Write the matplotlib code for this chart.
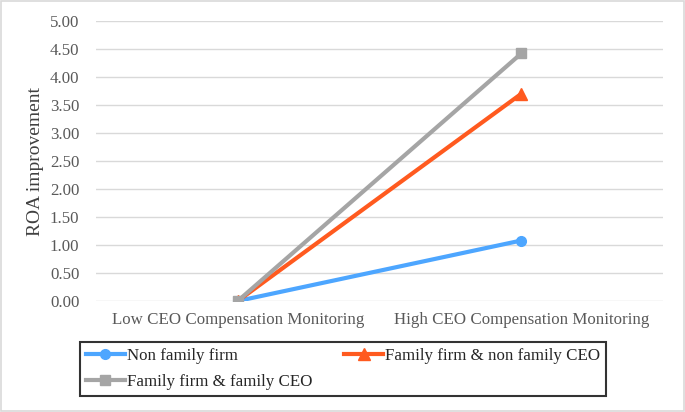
import matplotlib.pyplot as plt
from matplotlib.lines import Line2D

categories = ["Low CEO Compensation Monitoring", "High CEO Compensation Monitoring"]
non_family = [0.00, 1.08]
family_nonfamily_ceo = [0.00, 3.70]
family_family_ceo = [0.00, 4.42]
yticks = [0.0, 0.5, 1.0, 1.5, 2.0, 2.5, 3.0, 3.5, 4.0, 4.5, 5.0]

plt.rcParams["font.family"] = ["Liberation Serif", "DejaVu Serif"]

fig = plt.figure(figsize=(6.85, 4.12), dpi=100)
fig.patches.append(plt.Rectangle((0.002, 0.003), 0.996, 0.994, transform=fig.transFigure,
                                 fill=False, edgecolor="#d9d9d9", lw=1.2))
ax = fig.add_axes([96 / 685, 1 - 301 / 412, 567 / 685, 280 / 412])

x = [0.5, 1.5]
ax.plot(x, non_family, color="#4da6ff", lw=3, marker="o", ms=7, zorder=3)
ax.plot(x, family_nonfamily_ceo, color="#ff5a1f", lw=3, marker="^", ms=8, zorder=3)
ax.plot(x, family_family_ceo, color="#a5a5a5", lw=3, marker="s", ms=7, zorder=4)

ax.set_xlim(0, 2)
ax.set_ylim(0, 5)
ax.set_yticks(yticks)
ax.set_yticklabels([f"{v:.2f}" for v in yticks])
ax.set_xticks(x)
ax.set_xticklabels(categories)
ax.tick_params(length=0, labelsize=12.2, colors="#595959", pad=8)
ax.tick_params(axis="y", pad=12)
ax.grid(axis="y", color="#d9d9d9", lw=1)
ax.set_axisbelow(True)
for s in ax.spines.values():
    s.set_visible(False)
ax.set_ylabel("ROA improvement", fontsize=14, color="#404040", labelpad=4)

handles = [
    Line2D([], [], color="#4da6ff", lw=3, marker="o", ms=7),
    Line2D([], [], color="#a5a5a5", lw=3, marker="s", ms=7),
    Line2D([], [], color="#ff5a1f", lw=3, marker="^", ms=8),
]
labels = ["Non family firm", "Family firm & family CEO", "Family firm & non family CEO"]
leg = fig.legend(handles, labels, ncol=2, loc="upper left", bbox_to_anchor=(80 / 685, 1 - 342 / 412),
                 fontsize=12.2, frameon=True, fancybox=False, edgecolor="black",
                 handlelength=2.3, handletextpad=0.1, columnspacing=1.9,
                 borderpad=0.35, labelspacing=0.6, borderaxespad=0)
leg.get_frame().set_linewidth(1.5)
for t in leg.get_texts():
    t.set_color("#262626")

fig.savefig("out.png", dpi=100)
